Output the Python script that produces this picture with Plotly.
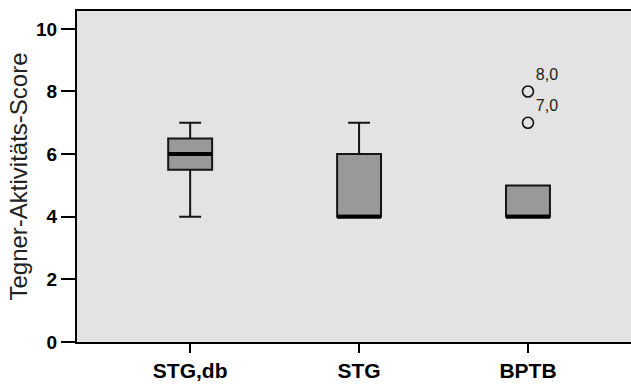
import plotly.graph_objects as go

# Group labels and five-number summaries (Tegner activity score)
groups = ["STG,db", "STG", "BPTB"]
q1 = [5.5, 4.0, 4.0]
median = [6.0, 4.0, 4.0]
q3 = [6.5, 6.0, 5.0]
lower_whisker = [4.0, 4.0, 4.0]
upper_whisker = [7.0, 7.0, 5.0]

# Outliers (group index, value, label)
outlier_group = [2, 2]
outlier_value = [8.0, 7.0]
outlier_label = ["8,0", "7,0"]

y_ticks = [0, 2, 4, 6, 8, 10]

BOX_WIDTH = 0.26
FONT = "Liberation Sans, Arial, sans-serif"
positions = list(range(len(groups)))

fig = go.Figure()

for i, g in enumerate(groups):
    fig.add_trace(go.Box(
        x=[positions[i]],
        q1=[q1[i]], median=[median[i]], q3=[q3[i]],
        lowerfence=[lower_whisker[i]], upperfence=[upper_whisker[i]],
        width=BOX_WIDTH,
        whiskerwidth=0.5,
        fillcolor="#999999",
        line=dict(color="#151515", width=2),
        boxpoints=False,
        name=g,
        showlegend=False,
        hoverinfo="skip",
    ))
    # heavier median bar
    fig.add_trace(go.Scatter(
        x=[positions[i] - BOX_WIDTH / 2, positions[i] + BOX_WIDTH / 2],
        y=[median[i], median[i]],
        mode="lines",
        line=dict(color="#000000", width=4),
        showlegend=False,
        hoverinfo="skip",
    ))

fig.add_trace(go.Scatter(
    x=[positions[g] for g in outlier_group],
    y=outlier_value,
    mode="markers+text",
    marker=dict(symbol="circle-open", size=11, color="#111111", line=dict(width=1.6)),
    text=outlier_label,
    textposition="top right",
    textfont=dict(family=FONT, size=16, color="#222222"),
    showlegend=False,
    hoverinfo="skip",
))

fig.update_layout(
    width=631, height=385,
    margin=dict(l=77, r=0, t=11, b=43),
    paper_bgcolor="white",
    plot_bgcolor="#e3e3e3",
    font=dict(family=FONT, color="#000000"),
    showlegend=False,
)

fig.update_xaxes(
    range=[-0.67, 2.61],
    automargin=False,
    tickmode="array", tickvals=positions,
    ticktext=[f"<b>{g}</b>" for g in groups],
    tickfont=dict(family=FONT, size=21, color="#000000"),
    ticks="outside", ticklen=9, tickwidth=2, tickcolor="#000000",
    showline=True, linecolor="#000000", linewidth=2, mirror=True,
    showgrid=False, zeroline=False,
)

fig.update_yaxes(
    range=[0, 10.57],
    automargin=False,
    tickmode="array", tickvals=y_ticks,
    ticktext=[f"<b>{v}</b>" for v in y_ticks],
    tickfont=dict(family=FONT, size=19, color="#000000"),
    ticks="outside", ticklen=14, tickwidth=2, tickcolor="#000000",
    showline=True, linecolor="#000000", linewidth=2,
    showgrid=False, zeroline=False,
    title=dict(text="Tegner-Aktivitäts-Score",
               font=dict(family=FONT, size=24, color="#222222"),
               standoff=2),
)

fig.write_html("out.html")
